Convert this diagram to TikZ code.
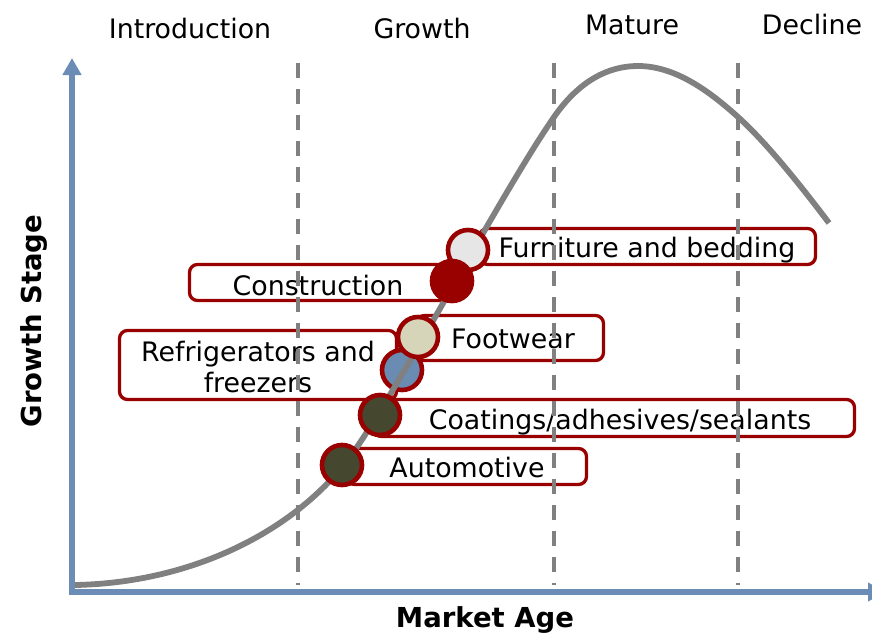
\documentclass[tikz,border=0pt]{standalone}
\usepackage{fontspec}
\setmainfont{DejaVu Sans}
\usetikzlibrary{arrows.meta}
\definecolor{axisblue}{RGB}{107,141,181}
\definecolor{curvegray}{RGB}{128,128,128}
\definecolor{boxred}{RGB}{153,0,0}
\definecolor{cfurn}{RGB}{230,230,230}
\definecolor{cfoot}{RGB}{215,213,185}
\definecolor{cfridge}{RGB}{106,139,178}
\definecolor{colive}{RGB}{70,71,47}
\tikzset{
  lbl/.style={font=\fontsize{26.8}{31}\selectfont, inner sep=0pt, anchor=base},
  ttl/.style={font=\bfseries\fontsize{27.5}{33}\selectfont, inner sep=0pt, anchor=base},
  labelbox/.style={draw=boxred, line width=3.3pt, fill=white, rounded corners=8pt, inner sep=0pt},
  dot/.style={circle, draw=boxred, line width=4.6pt, minimum size=40pt, inner sep=0pt},
  vline/.style={draw=curvegray, line width=3.6pt, dash pattern=on 15pt off 11pt},
  axisline/.style={draw=axisblue, line width=5.5pt, -{Triangle[width=18pt,length=17pt]}},
  lifecurve/.style={draw=curvegray, line width=5.8pt}
}
\begin{document}
\begin{tikzpicture}[x=1pt,y=-1pt]
\useasboundingbox (0,0) rectangle (872,634);
% axes
\coordinate (yb) at (72,594.5);
\coordinate (ytop) at (72,58);
\coordinate (xl) at (69.5,592);
\coordinate (xend) at (885,592);
\draw[axisline] (yb) -- (ytop);
\draw[axisline] (xl) -- (xend);
% stage titles
\node[lbl] (tIntro) at (190,38) {Introduction};
\node[lbl] (tGrowth) at (422,39) {Growth};
\node[lbl] (tMature) at (632,35) {Mature};
\node[lbl] (tDecline) at (812,35) {Decline};
% axis titles
\node[ttl] (xtitle) at (485,627.5) {Market Age};
\node[ttl, rotate=90] (ytitle) at (41,321) {Growth Stage};
% label boxes
\node[labelbox, minimum width=336pt, minimum height=36pt] (bFurn) at (647.5,246.5) {};
\node[labelbox, minimum width=269pt, minimum height=36pt] (bCons) at (324,282.5) {};
\node[labelbox, minimum width=187pt, minimum height=45pt] (bFoot) at (510,338) {};
\node[labelbox, minimum width=277pt, minimum height=69pt] (bFridge) at (258,365) {};
\node[labelbox, minimum width=481pt, minimum height=37pt] (bCoat) at (614,418) {};
\node[labelbox, minimum width=240pt, minimum height=36pt] (bAuto) at (466.5,466.5) {};
% box texts
\node[lbl] (tFurn) at (647,257) {Furniture and bedding};
\node[lbl] (tCons) at (318,295) {Construction};
\node[lbl] (tFoot) at (513,348) {Footwear};
\node[lbl] (tFridgeA) at (258,361) {Refrigerators and};
\node[lbl] (tFridgeB) at (258,392) {freezers};
\node[lbl] (tCoat) at (620,429) {Coatings/adhesives/sealants};
\node[lbl] (tAuto) at (467,477) {Automotive};
% stage separators
\coordinate (d1t) at (298,63); \coordinate (d1b) at (298,585);
\coordinate (d2t) at (554,63); \coordinate (d2b) at (554,585);
\coordinate (d3t) at (738,63); \coordinate (d3b) at (738,585);
\draw[vline] (d1t) -- (d1b);
\draw[vline] (d2t) -- (d2b);
\draw[vline] (d3t) -- (d3b);
% blue dot under the curve
\node[dot, fill=cfridge] (cFridge) at (402,370) {};
% life-cycle curve
\coordinate (k0) at (75,585);
\coordinate (k1) at (343,466);
\coordinate (k2) at (554,117);
\coordinate (k3) at (638,66);
\coordinate (k4) at (738,117);
\coordinate (k5) at (829,223);
\draw[lifecurve] (k0) .. controls (185,583) and (285,537) .. (k1)
  .. controls (388,411) and (494,204) .. (k2)
  .. controls (579,81) and (608,66) .. (k3)
  .. controls (673,66) and (706,88) .. (k4)
  .. controls (768,144) and (804,190) .. (k5);
% dots
\node[dot, fill=cfurn] (cFurn) at (468,250) {};
\node[dot, fill=boxred] (cCons) at (452,281) {};
\node[dot, fill=cfoot] (cFoot) at (418,337) {};
\node[dot, fill=colive] (cCoat) at (380,415) {};
\node[dot, fill=colive] (cAuto) at (342,465) {};
\end{tikzpicture}
\end{document}
